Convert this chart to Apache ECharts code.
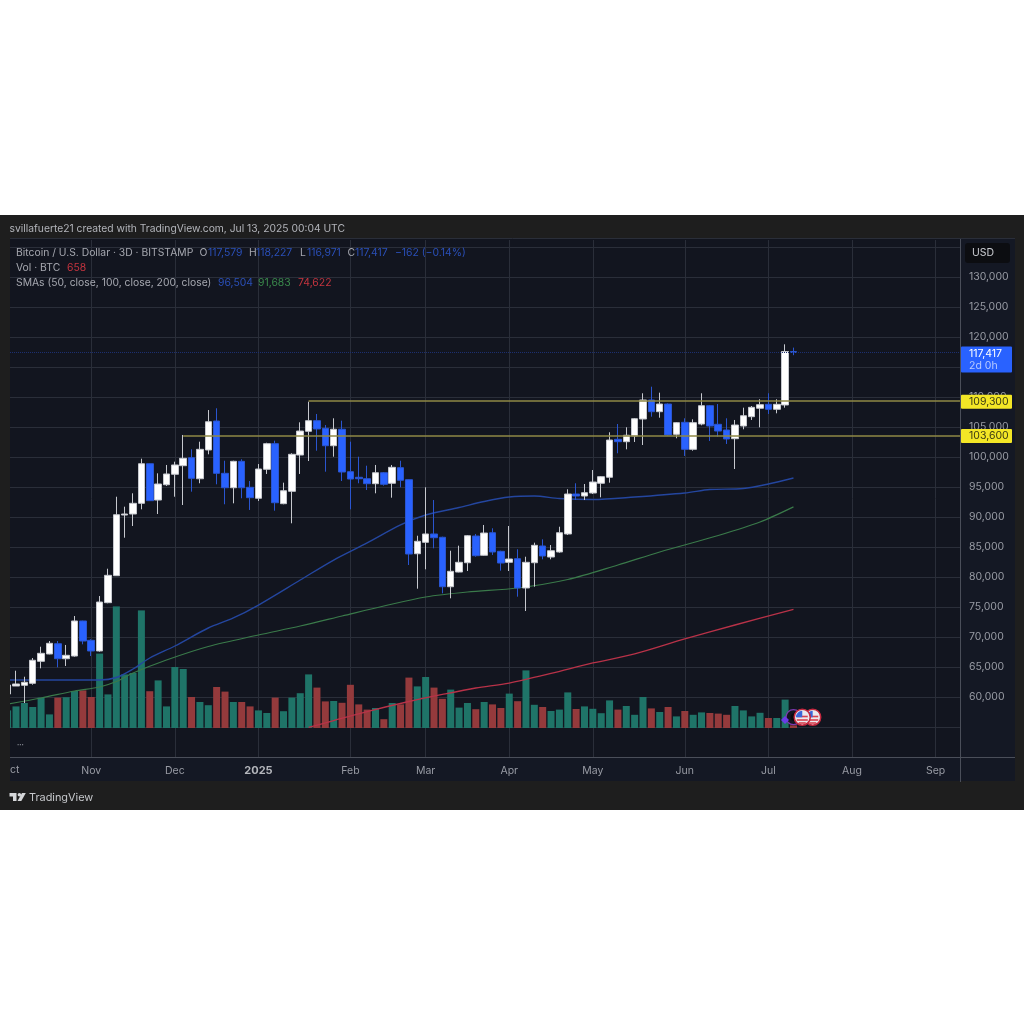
<!DOCTYPE html>
<html>
<head>
<meta charset="utf-8">
<title>Bitcoin / U.S. Dollar 3D</title>
<style>html,body{margin:0;padding:0;background:#fff}#c{width:1024px;height:1024px}</style>
<script src="https://cdn.jsdelivr.net/npm/echarts@6/dist/echarts.min.js"></script>
</head>
<body>
<div id="c"></div>
<script>
// Three-day BTC/USD bars, oldest first
const opens = [60500,61830,61950,62280,65950,67170,68880,66380,66830,72670,69450,67670,75720,80220,90330,90500,92280,98880,92830,95380,97120,98550,99880,96380,101170,106000,97280,94880,99280,94950,93120,97950,102220,92220,94280,100330,104280,106050,104780,101880,104620,97550,96620,96380,95550,97380,95620,98220,96220,83880,85780,87170,86620,78380,80830,82380,86830,83620,87380,84280,82450,83050,78170,82380,85170,83330,84170,87170,93830,93500,94000,95620,96620,102950,102550,103500,106330,109500,107550,108830,103780,105780,101280,105500,108550,105450,104500,103050,105170,106720,108120,108780,107950,108670,117579];
const closes = [62000,62170,62450,66120,67280,68950,66380,66950,72670,69330,67670,75830,80280,90380,90500,92280,98880,92720,95500,97170,98670,99780,96450,101280,105880,97280,94880,99280,94880,93220,98000,102220,92380,94380,100450,104330,106050,104670,101880,104620,97500,96330,96380,95550,97380,95450,98280,96120,83830,85950,87170,86550,78380,80950,82450,86880,83550,87330,84170,82330,83000,78170,82450,85280,83500,84380,87380,93830,93500,94050,95830,96720,102830,102550,103620,106380,109500,107550,108830,103670,105720,101280,105720,108550,105170,104330,103000,105330,106880,108280,108720,107950,108780,117579,117417];
const lows = [60170,61830,59000,62050,64780,67120,64950,65170,66720,68780,66830,67550,75620,80220,86550,88500,91280,92670,90500,95170,93380,92000,94220,95620,100450,95450,92120,92280,93120,91170,92670,97170,91050,92120,88950,97170,99330,101050,97550,100050,96000,91280,95620,94500,93950,95220,93220,94950,82000,78050,81280,84780,77280,76450,80780,81000,83380,83550,83670,81050,81000,76720,74330,78380,82950,82950,84050,87000,92830,92830,93830,93280,95720,100620,101280,102500,102000,106720,106550,103580,103120,100170,101050,105280,102670,103380,102170,98000,104620,106170,104950,107170,107280,108220,116971];
const highs = [62330,64380,63380,66500,68380,69330,69330,68670,73500,72720,69620,76830,81380,93380,91720,93950,99720,98930,97280,98670,99220,103670,101280,102550,107830,108120,99380,99380,99620,96000,98830,102380,102720,95720,100620,105780,109220,107170,105330,106450,106050,102550,100050,98550,98670,97500,98670,99380,96280,86880,94950,92830,86720,84380,85220,87000,87170,88670,88120,84380,88500,84620,83380,85720,86280,85330,88380,94620,95620,95500,97830,96830,104120,105500,104950,106500,110620,111720,110720,108920,105830,106450,106280,110620,108670,108830,106450,106170,108220,108500,109620,110620,109620,118780,118227];
const volumes = [4400,5400,6250,5250,7600,3400,7600,7700,9250,9400,7750,18600,8400,30400,13400,13750,29400,9200,11900,5400,15250,14750,7750,6500,5700,10250,9100,6500,6500,5400,4400,3750,7600,4200,7600,8700,13400,10100,6650,6750,6300,10800,5900,4600,5000,2200,6250,5900,12600,10400,12750,10100,7300,9600,5100,6250,4700,6500,5900,5000,8600,6700,14400,5800,5250,4250,4600,8900,4750,5400,4800,3700,6900,4600,5500,3300,7750,4900,4000,5250,2900,4250,3300,3900,3750,3600,3300,5500,4400,2900,3800,2500,2500,7100,658];

// Moving averages as [bar index, price] readings
const sma50 = [[0,62830],[5,62830],[11,62830],[13,63250],[15,64670],[17,66500],[20,68500],[24,71500],[27,73170],[30,75330],[35,79500],[39,82830],[43,85670],[47,88670],[50,90330],[54,91580],[57,92580],[60,93330],[63,93500],[66,93080],[70,92920],[75,93330],[81,94000],[84,94580],[88,94750],[91,95500],[94,96504]];
const sma100 = [[0,58830],[4,59830],[8,61000],[11,61670],[13,62580],[15,64000],[19,66170],[24,68420],[30,70330],[35,71830],[40,73500],[45,75170],[50,76670],[55,77500],[61,78170],[67,79580],[73,82000],[78,84170],[85,86920],[90,89170],[94,91683]];
const sma200 = [[36,54920],[39,56080],[43,57580],[48,59250],[52,60420],[56,61500],[60,62330],[65,63920],[70,65670],[75,67170],[81,69670],[87,72000],[94,74622]];

const priceLabels = [60000,65000,70000,75000,80000,85000,90000,95000,100000,105000,110000,120000,125000,130000];
const priceGrid = [55000,60000,65000,70000,75000,80000,85000,90000,95000,100000,105000,110000,115000,120000,125000,130000,135000];
const monthBars = [10,20,30,41,50,60,70,81,91,101,111];
const monthNames = ['Nov','Dec','2025','Feb','Mar','Apr','May','Jun','Jul','Aug','Sep'];

const lastPrice = 117417;
const levels = [{ price: 109300, from: 36 }, { price: 103600, from: 21 }];

const UP = '#ffffff', DOWN = '#2962ff';
const VOL_UP = '#1f7468', VOL_DOWN = '#943a3c';
const FRAME = '#1e1e1e', PLOT = '#12151f', PANEL = '#141824', GRID = '#2a2e39';
const AXIS = '#4a4e59', TEXT = '#a6a8b0', TICK = '#989ba4';
const FONT = 'Inter, Roboto, sans-serif';

const bars = opens.map((o, i) => [i, o, closes[i], lows[i], highs[i]]);
const volBars = volumes.map((v, i) => ({
  value: [i, v],
  itemStyle: { color: closes[i] >= opens[i] ? VOL_UP : VOL_DOWN }
}));
const fmt = v => v.toLocaleString('en-US');

const chart = echarts.init(document.getElementById('c'), null, { renderer: 'canvas' });

const xMin = 0.282, xMax = xMin + 950 / 8.36;

function label(x, y, text, fill, size, extra) {
  return { type: 'text', z: 50, silent: true, x, y,
    style: Object.assign({ text, fill, font: (size || 10.5) + 'px ' + FONT, textVerticalAlign: 'middle' }, extra || {}) };
}

chart.setOption({
  animation: false,
  backgroundColor: '#ffffff',
  grid: { left: 10, right: 64, top: 240, bottom: 267, containLabel: false },
  xAxis: {
    type: 'value', min: xMin, max: xMax,
    axisLine: { show: true, onZero: false, lineStyle: { color: AXIS, width: 1 } },
    axisTick: { show: false, customValues: monthBars },
    splitLine: { show: true, lineStyle: { color: GRID, width: 1 } },
    axisLabel: {
      show: true, margin: 8, customValues: monthBars, color: TICK, fontSize: 10.5, fontFamily: FONT,
      formatter: v => {
        const n = monthNames[monthBars.indexOf(v)];
        return n === '2025' ? '{y|' + n + '}' : n;
      },
      rich: { y: { color: '#b4b6bc', fontWeight: 'bold', fontSize: 11, fontFamily: FONT } }
    }
  },
  yAxis: [{
    type: 'value', position: 'right', min: 50000, max: 50000 + 517 / 0.006, interval: 5000,
    axisLine: { show: false },
    axisTick: { show: false, customValues: priceGrid },
    splitLine: { show: true, lineStyle: { color: GRID, width: 1 } },
    axisLabel: { show: true, margin: 9, customValues: priceLabels, color: TICK, fontSize: 10.5, fontFamily: FONT, formatter: v => fmt(v) }
  }, {
    type: 'value', show: false, min: -7250, max: 122000, splitLine: { show: false }
  }],
  series: [{
    type: 'bar', name: 'Vol', yAxisIndex: 1, z: 1, barWidth: 7, data: volBars, silent: true
  }, {
    type: 'line', name: 'SMA 50', z: 2, data: sma50, showSymbol: false, silent: true, smooth: 0.3,
    lineStyle: { color: '#24469f', width: 1.4 }
  }, {
    type: 'line', name: 'SMA 100', z: 2, data: sma100, showSymbol: false, silent: true, smooth: 0.3,
    lineStyle: { color: '#3a7a4a', width: 1.2 }
  }, {
    type: 'line', name: 'SMA 200', z: 2, data: sma200, showSymbol: false, silent: true, smooth: 0.3,
    lineStyle: { color: '#b83248', width: 1.3 }
  }, {
    type: 'candlestick', name: 'BTCUSD', z: 3, barWidth: 7, data: bars, silent: true,
    encode: { x: 0, y: [1, 2, 3, 4] },
    itemStyle: { color: UP, color0: DOWN, borderColor: '#c6c8ce', borderColor0: '#2a55d0', borderWidth: 1 },
    markLine: {
      silent: true, symbol: 'none', animation: false, label: { show: false },
      data: [
        [{ coord: [xMin, lastPrice], lineStyle: { color: '#1c2f70', type: 'dotted', width: 1 } }, { coord: [xMax, lastPrice] }],
        ...levels.map(l => [{ coord: [l.from, l.price], lineStyle: { color: '#8f8846', type: 'solid', width: 1.5 } }, { coord: [xMax, l.price] }])
      ]
    }
  }]
});

const priceY = p => chart.convertToPixel({ yAxisIndex: 0 }, p);
const axisX = 960;

// Price tags that sit on the axis strip
const tags = [];
tags.push({ type: 'rect', z: 40, silent: true, shape: { x: axisX + 1, y: priceY(lastPrice) - 6, width: 51, height: 26, r: 1 }, style: { fill: '#2962ff' } });
tags.push(label(969, priceY(lastPrice) + 1, fmt(lastPrice), '#ffffff'));
tags.push(label(969, priceY(lastPrice) + 13, '2d 0h', '#b9cbff'));
levels.forEach(l => {
  tags.push({ type: 'rect', z: 40, silent: true, shape: { x: axisX + 1, y: priceY(l.price) - 6.5, width: 51, height: 14, r: 1 }, style: { fill: '#f3e626' } });
  tags.push(label(969, priceY(l.price) + 0.5, fmt(l.price), '#3a3a14'));
});

// US-event badge: a ringed disc with stripes and a blue corner
function badge(cx, cy, ring, z) {
  const parts = [{ type: 'circle', z, silent: true, shape: { cx, cy, r: 8 }, style: { fill: '#e9e9ee', stroke: ring, lineWidth: 1.5 } }];
  [[-1.5, 5.5], [2, 5.5], [5, 3.5]].forEach(s => {
    parts.push({ type: 'rect', z: z + 1, silent: true, shape: { x: cx - s[1], y: cy + s[0], width: 2 * s[1], height: 1.6 }, style: { fill: '#d8404e' } });
  });
  parts.push({ type: 'sector', z: z + 2, silent: true, shape: { cx, cy, r: 6.4, r0: 0, startAngle: Math.PI, endAngle: Math.PI * 1.5 }, style: { fill: '#3a66d8' } });
  return parts;
}
const badgeY = chart.convertToPixel({ yAxisIndex: 1 }, 2700);
const barX = i => chart.convertToPixel({ xAxisIndex: 0 }, i);
const eventBadges = [
  { type: 'circle', z: 41, silent: true, shape: { cx: barX(94), cy: badgeY, r: 7.5 }, style: { fill: '#131420', stroke: '#7d3ab0', lineWidth: 1.3 } },
  { type: 'circle', z: 42, silent: true, shape: { cx: barX(94.15), cy: badgeY, r: 4 }, style: { fill: '#0a0a10' } },
  ...badge(barX(96.3), badgeY, '#c4283f', 43),
  ...badge(barX(95.05), badgeY, '#c4283f', 46),
  { type: 'polygon', z: 49, silent: true, shape: { points: [[785, 716], [789, 720], [785, 724], [781, 720]] }, style: { fill: '#6a3de8' } }
];

chart.setOption({
  graphic: [
    // Frame, plot and axis backgrounds
    { type: 'rect', z: -5, silent: true, shape: { x: 0, y: 215, width: 1024, height: 595 }, style: { fill: FRAME } },
    { type: 'rect', z: -4, silent: true, shape: { x: 10, y: 238, width: 1005, height: 543 }, style: { fill: PANEL } },
    { type: 'rect', z: -3, silent: true, shape: { x: 10, y: 238, width: 950, height: 519 }, style: { fill: PLOT } },
    { type: 'rect', z: 30, silent: true, shape: { x: 0, y: 238, width: 10, height: 543 }, style: { fill: FRAME } },
    { type: 'line', z: 30, silent: true, shape: { x1: 960.5, y1: 238, x2: 960.5, y2: 782 }, style: { stroke: AXIS, lineWidth: 1 } },
    { type: 'line', z: 30, silent: true, shape: { x1: 10, y1: 757.5, x2: 1015, y2: 757.5 }, style: { stroke: AXIS, lineWidth: 1 } },
    { type: 'line', z: 30, silent: true, shape: { x1: 10, y1: 238.5, x2: 1015, y2: 238.5 }, style: { stroke: GRID, lineWidth: 1 } },

    // Currency button
    { type: 'rect', z: 35, silent: true, shape: { x: 965, y: 243, width: 45, height: 20, r: 3 }, style: { fill: '#0c0d11' } },
    label(972, 253, 'USD', '#c9cbd1', 10.5),

    // Header, footer and cut-off month
    label(9.5, 229, 'svillafuerte21 created with TradingView.com, Jul 13, 2025 00:04 UTC', '#b2b4ba', 10.3),
    label(10, 769.5, 'ct', TICK, 10.5),
    label(17, 745, '•••', '#8c8f98', 4),
    { type: 'polygon', z: 50, silent: true, shape: { points: [[9.5, 793], [16.5, 793], [16.5, 801], [13, 801], [13, 796.5], [9.5, 796.5]] }, style: { fill: '#d6d7da' } },
    { type: 'polygon', z: 50, silent: true, shape: { points: [[22, 793], [25.8, 793], [21.3, 801], [17.5, 801]] }, style: { fill: '#d6d7da' } },
    { type: 'circle', z: 50, silent: true, shape: { cx: 19.4, cy: 794.8, r: 1.8 }, style: { fill: '#d6d7da' } },
    label(29, 797.5, 'TradingView', '#c6c8cc', 10.9),

    // Legend rows
    label(16, 252.5, 'Bitcoin / U.S. Dollar · 3D · BITSTAMP', TEXT, 10.35),
    label(199.5, 252.5, 'O', TEXT, 10.35), label(208, 252.5, '117,579', '#2a4fb8', 10.4),
    label(249, 252.5, 'H', TEXT, 10.35), label(256, 252.5, '118,227', '#2a4fb8', 10.4),
    label(300, 252.5, 'L', TEXT, 10.35), label(307, 252.5, '116,971', '#2a4fb8', 10.4),
    label(347.5, 252.5, 'C', TEXT, 10.35), label(355, 252.5, '117,417', '#2a4fb8', 10.4),
    label(395, 252.5, '−162 (−0.14%)', '#2a4fb8', 10.4),
    label(16, 267.5, 'Vol · BTC', TEXT, 10.35), label(67, 267.5, '658', '#c5343f', 10.4),
    label(16, 282.5, 'SMAs (50, close, 100, close, 200, close)', TEXT, 10.35),
    label(218, 282.5, '96,504', '#2a4fb8', 10.4),
    label(258, 282.5, '91,683', '#3a8a4c', 10.4),
    label(298, 282.5, '74,622', '#c5343f', 10.4),

    ...tags,
    ...eventBadges
  ]
});
</script>
</body>
</html>
